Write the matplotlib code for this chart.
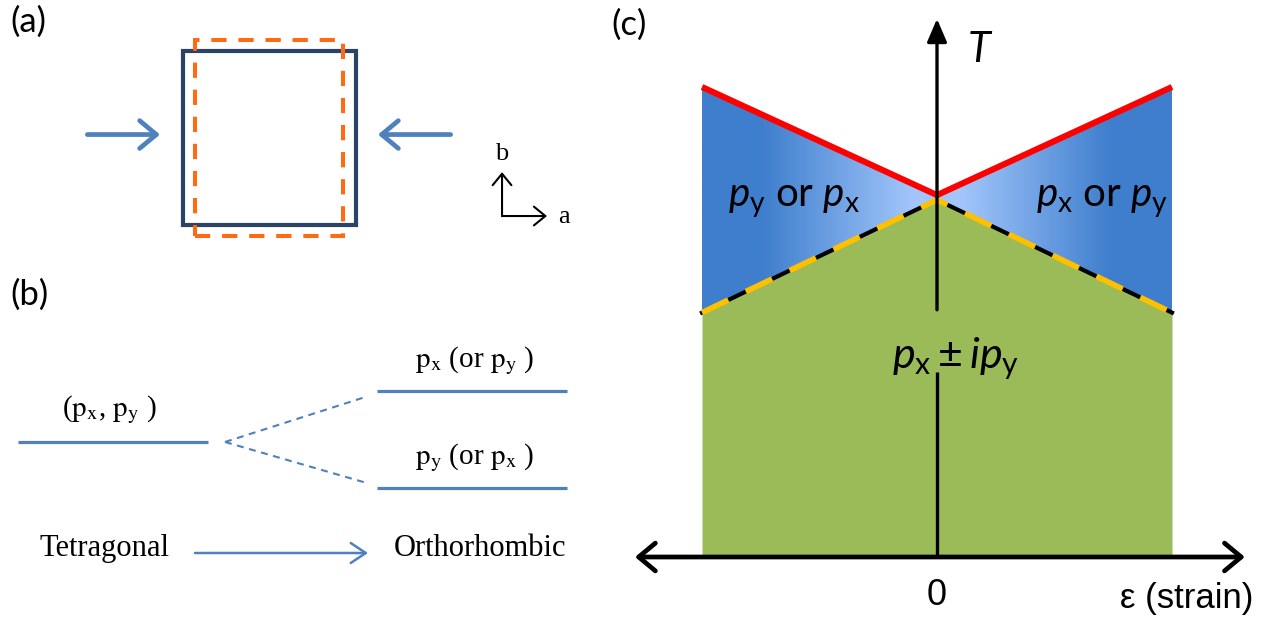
import numpy as np
import matplotlib.pyplot as plt
from matplotlib.colors import LinearSegmentedColormap
from matplotlib.patches import Polygon, Rectangle

plt.rcParams['mathtext.fontset'] = 'custom'
plt.rcParams['mathtext.it'] = 'Lato:italic'
plt.rcParams['mathtext.rm'] = 'Lato'
plt.rcParams['mathtext.sf'] = 'Lato'
plt.rcParams['lines.scale_dashes'] = False

# (a) unit cell before / after uniaxial strain (units of tetragonal a)
tet_ab = (1.0, 1.0)
ortho_ab = (0.86, 1.13)

# (b) energy levels of the p-wave components
tet_levels = [0.0]
ortho_levels = [0.51, -0.46]
tet_label = r'($\mathrm{p_x}$, $\mathrm{p_y}$ )'
ortho_labels = [r'$\mathrm{p_x}$ (or $\mathrm{p_y}$ )', r'$\mathrm{p_y}$ (or $\mathrm{p_x}$ )']
phase_names = ['Tetragonal', 'Orthorhombic']

# (c) phase diagram T vs strain
strain = [-1.0, 0.0, 1.0]
t_upper = [1.0, 0.77, 1.0]     # normal -> single component (red)
t_lower = [0.52, 0.76, 0.52]   # single component -> chiral (dashed)
region_labels = [r'$p_\mathrm{y}$ or $p_\mathrm{x}$', r'$p_\mathrm{x}$ or $p_\mathrm{y}$',
                 r'$p_\mathrm{x}\pm ip_\mathrm{y}$']

W, H = 1270, 618
fig = plt.figure(figsize=(W / 100, H / 100), dpi=100)


def panel(x0, y0, x1, y1, cx, cy, sx, sy):
    # axes over figure pixels [x0,x1] x [y0,y1] (y from top), origin at (cx, cy)
    ax = fig.add_axes([x0 / W, 1 - y1 / H, (x1 - x0) / W, (y1 - y0) / H])
    ax.set_xlim((x0 - cx) / sx, (x1 - cx) / sx)
    ax.set_ylim((cy - y1) / sy, (cy - y0) / sy)
    ax.axis('off')
    return ax


blue = '#4f81bd'

# ---------------- (a) ----------------
ax = panel(0, 0, 600, 260, 269, 138, 173, 173)
ax.add_patch(Rectangle((-tet_ab[0] / 2, -tet_ab[1] / 2), tet_ab[0], tet_ab[1],
                       fill=False, ec='#2b4466', lw=3, joinstyle='miter'))
ax.add_patch(Rectangle((-ortho_ab[0] / 2, -ortho_ab[1] / 2), ortho_ab[0], ortho_ab[1],
                       fill=False, ec='#ff6a13', lw=2.9, ls=(0, (11, 8.5)), joinstyle='miter'))
for s in [-1, 1]:
    ax.annotate('', xy=(s * 0.63, 0.02), xytext=(s * 1.05, 0.02),
                arrowprops=dict(arrowstyle='->,head_length=0.6,head_width=0.5', lw=3.4,
                                color=blue, shrinkA=0, shrinkB=0, mutation_scale=20))
ox, oy = 1.347, -0.451
ax.annotate('', xy=(ox, oy + 0.254), xytext=(ox, oy),
            arrowprops=dict(arrowstyle='->,head_length=0.55,head_width=0.45', lw=1.5,
                            color='k', shrinkA=0, shrinkB=0, mutation_scale=15))
ax.annotate('', xy=(ox + 0.26, oy), xytext=(ox, oy),
            arrowprops=dict(arrowstyle='->,head_length=0.55,head_width=0.45', lw=1.5,
                            color='k', shrinkA=0, shrinkB=0, mutation_scale=15))
ax.text(ox, oy + 0.324, 'b', family='Liberation Serif', fontsize=19, ha='center', va='baseline')
ax.text(ox + 0.325, oy - 0.04, 'a', family='Liberation Serif', fontsize=19, ha='left', va='baseline')

# ---------------- (b) ----------------
ax = panel(0, 260, 600, 618, 0, 442, 100, 100)
serif = dict(family='Liberation Serif', math_fontfamily='stix')
for e in tet_levels:
    ax.plot([0.18, 2.08], [e, e], color=blue, lw=2.3, solid_capstyle='butt')
    ax.text(1.1, e + 0.26, tet_label, fontsize=21, ha='center', va='baseline', **serif)
for e, lab in zip(ortho_levels, ortho_labels):
    ax.plot([3.77, 5.67], [e, e], color=blue, lw=2.3, solid_capstyle='butt')
    ax.plot([2.25, 3.65], [tet_levels[0], e * 0.88], color=blue, lw=1.5, ls=(0, (5, 4)))
    ax.text(4.75, e + 0.24, lab, fontsize=21, ha='center', va='baseline', **serif)
ax.text(1.05, -1.14, phase_names[0], fontsize=22, ha='center', va='baseline', **serif)
ax.text(4.8, -1.14, phase_names[1], fontsize=22, ha='center', va='baseline', **serif)
ax.annotate('', xy=(3.68, -1.11), xytext=(1.95, -1.11),
            arrowprops=dict(arrowstyle='->,head_length=0.6,head_width=0.4', lw=1.8,
                            color=blue, shrinkA=0, shrinkB=0, mutation_scale=18))

# ---------------- (c) ----------------
ax = panel(600, 0, 1270, 618, 937, 557, 235, 470)
eps = np.array(strain)
tu = np.array(t_upper)
tl = np.array(t_lower)

ax.fill_between(eps, 0, tl, color='#9bbb59', lw=0, zorder=1)

grad = LinearSegmentedColormap.from_list('g', ['#a2c6fb', '#3e7ecd'])
xs = np.linspace(-1, 1, 400)
shade = np.clip((np.abs(xs) - 0.1) / 0.65, 0, 1)[None, :]
for side in [slice(0, 2), slice(1, 3)]:
    poly = Polygon(np.column_stack([np.r_[eps[side], eps[side][::-1]],
                                    np.r_[tu[side], tl[side][::-1]]]),
                   closed=True, fc='none', ec='none')
    ax.add_patch(poly)
    im = ax.imshow(shade, cmap=grad, extent=(-1, 1, 0.4, 1.05), aspect='auto',
                   origin='lower', zorder=1, interpolation='bilinear')
    im.set_clip_path(poly)

ax.plot(eps, tl, color='k', lw=3.0, zorder=3)
ax.plot(eps, tl, color='#ffc000', lw=4.0, ls=(0, (21, 14)), zorder=4, solid_capstyle='butt',
        dash_capstyle='butt')
ax.plot(eps, tu, color='#ff0000', lw=4.4, zorder=4, solid_capstyle='butt')

# axes
ax.plot([0, 0], [0, 0.394], color='k', lw=2.4, zorder=5, solid_capstyle='butt')
ax.annotate('', xy=(0, 1.145), xytext=(0, 0.526),
            arrowprops=dict(arrowstyle='-|>,head_length=1.4,head_width=0.6', lw=2.4,
                            color='k', shrinkA=0, shrinkB=0), zorder=5)
ax.annotate('', xy=(1.31, 0), xytext=(-1.285, 0),
            arrowprops=dict(arrowstyle='<->,head_length=0.6,head_width=0.5', lw=3.4,
                            color='k', shrinkA=0, shrinkB=0, mutation_scale=20), zorder=5)

sans = dict(family='Lato', math_fontfamily='custom')
ax.text(0.132, 1.053, 'T', fontsize=30, style='italic', ha='left', va='baseline', **sans)
ax.text(-0.889, 0.745, region_labels[0], fontsize=29, ha='left', va='baseline', zorder=6, **sans)
ax.text(0.983, 0.745, region_labels[1], fontsize=29, ha='right', va='baseline', zorder=6, **sans)
ax.text(-0.191, 0.402, region_labels[2], fontsize=31, ha='left', va='baseline', zorder=6, **sans)
ax.text(0, -0.102, '0', family='Liberation Sans', fontsize=26, ha='center', va='baseline')
ax.text(1.345, -0.108, 'ε (strain)', family='Liberation Sans', fontsize=25, ha='right', va='baseline')

for lab, x, y in [('(a)', 10, 6), ('(b)', 10, 279), ('(c)', 611, 9)]:
    fig.text(x / W, 1 - y / H, lab, family='Lato', fontsize=25, ha='left', va='top')

fig.savefig('out.png', dpi=100)
